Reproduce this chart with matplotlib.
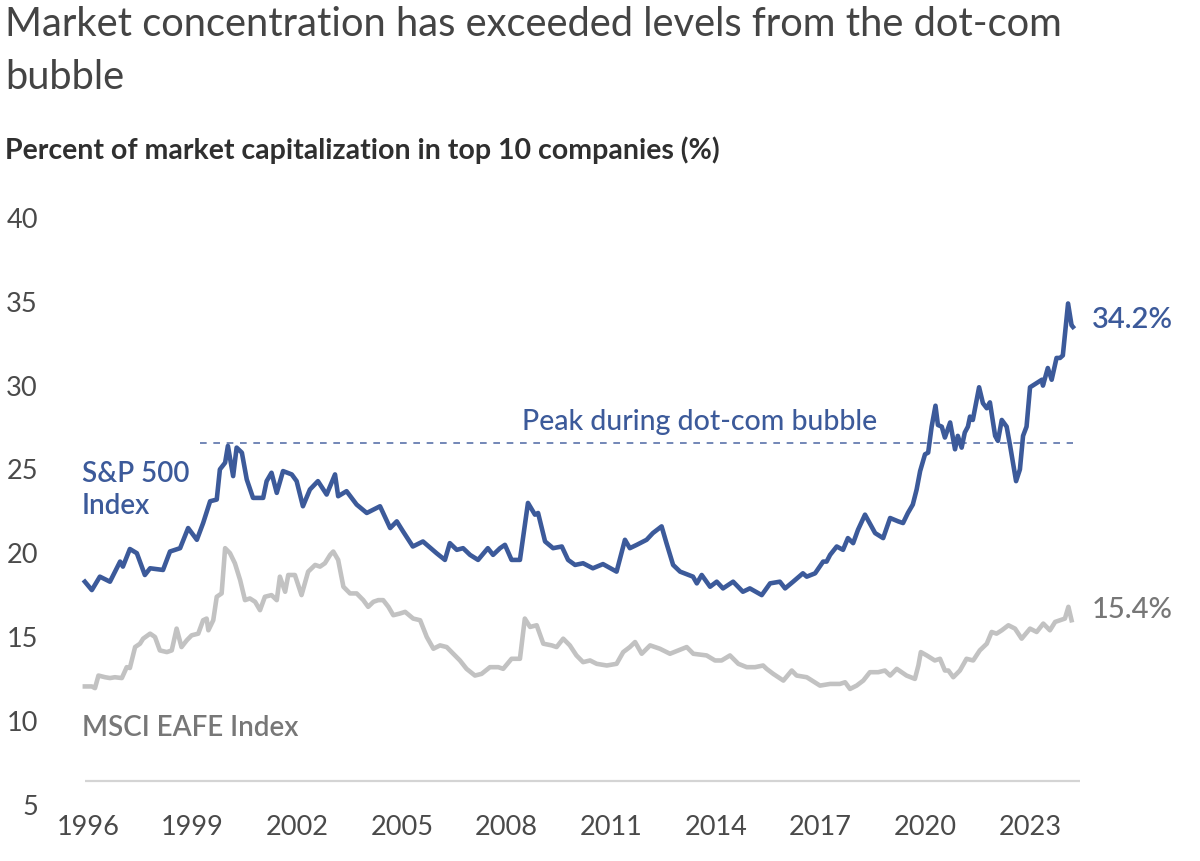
import matplotlib
matplotlib.use("Agg")
import matplotlib.pyplot as plt

# ---------------- data (decimal years, % of market cap in top 10) ----------------
sp500_years = [1995.91, 1996.11, 1996.34, 1996.63, 1996.92, 1997.00, 1997.20, 1997.40, 1997.63, 1997.78,
               1998.15, 1998.35, 1998.64, 1998.87, 1999.12, 1999.30, 1999.50, 1999.69, 1999.78, 1999.93,
               2000.01, 2000.16, 2000.26, 2000.41, 2000.55, 2000.73, 2000.79, 2001.02, 2001.12, 2001.26,
               2001.41, 2001.59, 2001.84, 2001.98, 2002.16, 2002.36, 2002.59, 2002.84, 2003.08, 2003.17,
               2003.41, 2003.70, 2003.99, 2004.37, 2004.66, 2004.85, 2005.03, 2005.31, 2005.60, 2005.99,
               2006.23, 2006.37, 2006.57, 2006.75, 2006.95, 2007.18, 2007.46, 2007.61, 2007.81, 2007.95,
               2008.14, 2008.38, 2008.61, 2008.81, 2008.90, 2009.10, 2009.33, 2009.58, 2009.76, 2009.96,
               2010.19, 2010.47, 2010.76, 2011.15, 2011.39, 2011.53, 2011.73, 2012.01, 2012.19, 2012.44,
               2012.58, 2012.77, 2012.97, 2013.34, 2013.45, 2013.59, 2013.83, 2014.02, 2014.20, 2014.49,
               2014.77, 2014.97, 2015.31, 2015.55, 2015.83, 2015.98, 2016.21, 2016.49, 2016.60, 2016.84,
               2017.07, 2017.17, 2017.27, 2017.46, 2017.64, 2017.78, 2017.93, 2018.07, 2018.27, 2018.56,
               2018.79, 2018.99, 2019.22, 2019.36, 2019.50, 2019.64, 2019.75, 2019.85, 2019.99, 2020.08,
               2020.18, 2020.29, 2020.36, 2020.47, 2020.56, 2020.71, 2020.85, 2020.93, 2021.04, 2021.13,
               2021.22, 2021.28, 2021.36, 2021.54, 2021.65, 2021.76, 2021.85, 2022.00, 2022.08, 2022.19,
               2022.33, 2022.43, 2022.60, 2022.71, 2022.80, 2022.90, 2023.00, 2023.19, 2023.34, 2023.37,
               2023.51, 2023.62, 2023.76, 2023.86, 2023.94, 2024.09, 2024.19, 2024.23]
sp500_values = [18.3, 17.8, 18.6, 18.3, 19.5, 19.2, 20.25, 20.0, 18.7, 19.1,
                19.0, 20.1, 20.3, 21.5, 20.8, 21.8, 23.1, 23.2, 25.0, 25.4,
                26.4, 24.6, 26.3, 26.0, 24.4, 23.3, 23.3, 23.3, 24.3, 24.8,
                23.6, 24.9, 24.7, 24.3, 22.8, 23.8, 24.3, 23.5, 24.7, 23.4,
                23.7, 22.9, 22.4, 22.8, 21.5, 21.9, 21.3, 20.4, 20.7, 20.0,
                19.6, 20.6, 20.2, 20.3, 19.9, 19.6, 20.3, 19.9, 20.3, 20.5,
                19.6, 19.6, 23.0, 22.3, 22.4, 20.7, 20.3, 20.4, 19.6, 19.3,
                19.4, 19.1, 19.35, 18.9, 20.8, 20.3, 20.5, 20.8, 21.2, 21.6,
                20.6, 19.3, 18.9, 18.6, 18.2, 18.7, 18.0, 18.3, 17.9, 18.3,
                17.7, 17.9, 17.5, 18.2, 18.3, 17.9, 18.3, 18.8, 18.6, 18.8,
                19.5, 19.5, 19.9, 20.4, 20.2, 20.9, 20.6, 21.4, 22.3, 21.2,
                20.9, 22.1, 21.9, 21.8, 22.4, 22.9, 23.8, 24.9, 25.9, 26.0,
                27.55, 28.8, 27.65, 27.55, 26.9, 27.8, 26.2, 27.0, 26.3, 27.2,
                27.55, 28.15, 27.95, 29.9, 28.95, 28.65, 29.0, 27.0, 26.7, 27.95,
                27.55, 26.4, 24.3, 25.0, 27.0, 27.55, 29.9, 30.15, 30.35, 30.0,
                31.05, 30.35, 31.65, 31.65, 31.8, 34.9, 33.6, 33.5]

eafe_years = [1995.91, 1996.11, 1996.20, 1996.30, 1996.49, 1996.63, 1996.77, 1996.97, 1997.11, 1997.20,
              1997.35, 1997.49, 1997.58, 1997.78, 1997.92, 1998.06, 1998.26, 1998.40, 1998.54, 1998.68,
              1998.83, 1998.97, 1999.16, 1999.30, 1999.40, 1999.45, 1999.59, 1999.69, 1999.83, 1999.93,
              2000.07, 2000.21, 2000.36, 2000.50, 2000.64, 2000.79, 2000.93, 2001.07, 2001.26, 2001.41,
              2001.50, 2001.65, 2001.74, 2001.93, 2002.12, 2002.31, 2002.51, 2002.65, 2002.79, 2002.94,
              2003.03, 2003.17, 2003.32, 2003.51, 2003.70, 2003.89, 2004.03, 2004.18, 2004.32, 2004.46,
              2004.61, 2004.75, 2004.94, 2005.09, 2005.32, 2005.52, 2005.71, 2005.90, 2006.09, 2006.28,
              2006.47, 2006.66, 2006.85, 2007.09, 2007.28, 2007.52, 2007.76, 2007.90, 2008.14, 2008.38,
              2008.52, 2008.67, 2008.86, 2009.05, 2009.29, 2009.43, 2009.62, 2009.81, 2010.00, 2010.19,
              2010.39, 2010.58, 2010.87, 2011.15, 2011.34, 2011.53, 2011.68, 2011.87, 2012.11, 2012.39,
              2012.68, 2012.92, 2013.16, 2013.35, 2013.73, 2013.97, 2014.16, 2014.40, 2014.64, 2014.88,
              2015.12, 2015.35, 2015.45, 2015.64, 2015.93, 2016.17, 2016.31, 2016.60, 2016.98, 2017.27,
              2017.55, 2017.70, 2017.84, 2018.03, 2018.22, 2018.41, 2018.65, 2018.84, 2018.99, 2019.18,
              2019.46, 2019.70, 2019.80, 2019.87, 2020.04, 2020.27, 2020.42, 2020.56, 2020.66, 2020.80,
              2020.99, 2021.18, 2021.37, 2021.56, 2021.76, 2021.90, 2022.04, 2022.19, 2022.38, 2022.57,
              2022.76, 2023.00, 2023.19, 2023.38, 2023.57, 2023.72, 2023.86, 2024.00, 2024.10, 2024.19]
eafe_values = [12.05, 12.05, 11.95, 12.7, 12.6, 12.55, 12.6, 12.55, 13.2, 13.15,
               14.4, 14.6, 14.9, 15.2, 15.0, 14.2, 14.1, 14.2, 15.5, 14.4,
               14.8, 15.1, 15.2, 16.0, 16.1, 15.4, 16.0, 17.4, 17.6, 20.3,
               20.0, 19.4, 18.4, 17.2, 17.3, 17.1, 16.6, 17.4, 17.5, 17.2,
               18.6, 17.7, 18.7, 18.7, 17.5, 18.9, 19.3, 19.2, 19.4, 19.9,
               20.1, 19.6, 18.0, 17.6, 17.6, 17.2, 16.8, 17.1, 17.2, 17.2,
               16.8, 16.3, 16.4, 16.5, 16.1, 16.0, 15.0, 14.3, 14.5, 14.4,
               14.0, 13.6, 13.1, 12.7, 12.8, 13.2, 13.2, 13.1, 13.7, 13.7,
               16.1, 15.6, 15.7, 14.6, 14.5, 14.4, 14.9, 14.5, 13.9, 13.5,
               13.6, 13.4, 13.3, 13.4, 14.1, 14.4, 14.7, 14.0, 14.5, 14.3,
               14.0, 14.2, 14.4, 14.0, 13.9, 13.6, 13.6, 13.9, 13.4, 13.2,
               13.2, 13.3, 13.1, 12.8, 12.4, 13.0, 12.7, 12.6, 12.1, 12.2,
               12.2, 12.3, 11.9, 12.1, 12.4, 12.9, 12.9, 13.0, 12.7, 13.1,
               12.7, 12.5, 13.3, 14.1, 13.9, 13.6, 13.7, 13.0, 13.0, 12.6,
               13.0, 13.7, 13.6, 14.2, 14.6, 15.3, 15.2, 15.4, 15.7, 15.5,
               14.9, 15.5, 15.3, 15.8, 15.4, 15.9, 16.0, 16.1, 16.8, 16.0]

dotcom_peak = 26.6
dotcom_span = (1999.2, 2024.23)
baseline_level = 6.4
yticks = [5, 10, 15, 20, 25, 30, 35, 40]
xticks = [1996, 1999, 2002, 2005, 2008, 2011, 2014, 2017, 2020, 2023]
sp500_last_label = "34.2%"
eafe_last_label = "15.4%"

title_lines = ["Market concentration has exceeded levels from the dot-com", "bubble"]
subtitle = "Percent of market capitalization in top 10 companies (%)"

# ---------------- style ----------------
BLUE = "#3c5a9a"
BLUE_DASH = "#5b73aa"
GRAY_LINE = "#c2c2c2"
GRAY_TEXT = "#777777"
TICK_COLOR = "#4a4a4a"
MAIN = "Lato"

W, H = 1200, 861
fig = plt.figure(figsize=(W / 100, H / 100), dpi=100)

ax_l, ax_r, ax_t, ax_b = 60, 1080, 210, 815
ax = fig.add_axes([ax_l / W, 1 - ax_b / H, (ax_r - ax_l) / W, (ax_b - ax_t) / H])

px_per_year = 34.89
x0 = 1996 + (ax_l - 88) / px_per_year
x1 = 1996 + (ax_r - 88) / px_per_year
px_per_unit = 16.76
y_top = 40 + (218 - ax_t) / px_per_unit
y_bot = 40 - (ax_b - 218) / px_per_unit
ax.set_xlim(x0, x1)
ax.set_ylim(y_bot, y_top)

ax.hlines(baseline_level, sp500_years[0], sp500_years[-1] + 0.2, colors="#d4d4d4", lw=1.6, zorder=1)
ax.plot(eafe_years, eafe_values, color=GRAY_LINE, lw=3.3, solid_joinstyle="round", zorder=2)
ax.plot(sp500_years, sp500_values, color=BLUE, lw=3.3, solid_joinstyle="round", zorder=3)
ax.hlines(dotcom_peak, dotcom_span[0], dotcom_span[1], colors=BLUE_DASH, lw=1.2,
          linestyles=(0, (4, 4)), zorder=1)

for s in ["top", "right", "left", "bottom"]:
    ax.spines[s].set_visible(False)

ax.set_yticks(yticks)
ax.set_yticklabels([str(v) for v in yticks], fontfamily=MAIN, fontsize=19.5, color=TICK_COLOR)
ax.tick_params(axis="y", length=0, pad=16)
ax.set_xticks(xticks)
ax.set_xticklabels([str(v) for v in xticks], fontfamily=MAIN, fontsize=19.5, color=TICK_COLOR)
ax.tick_params(axis="x", length=0, pad=0)

# annotations
ax.text(1995.83, 25.5, "S&P 500\nIndex", color=BLUE, fontsize=20, fontfamily=MAIN,
        fontweight="semibold", va="top", ha="left", linespacing=1.3)
ax.text(1995.83, 9.55, "MSCI EAFE Index", color=GRAY_TEXT, fontsize=20, fontfamily=MAIN,
        fontweight="semibold", va="center", ha="left")
ax.text(2008.45, 27.85, "Peak during dot-com bubble", color=BLUE, fontsize=20.5, fontfamily=MAIN,
        fontweight="medium", va="center", ha="left")
fig.text(1092 / W, 1 - 320 / H, sp500_last_label, color=BLUE, fontsize=21, fontfamily=MAIN,
         fontweight="semibold", va="center", ha="left")
fig.text(1092 / W, 1 - 610 / H, eafe_last_label, color=GRAY_TEXT, fontsize=21, fontfamily=MAIN,
         fontweight="medium", va="center", ha="left")

fig.text(5 / W, 1 - 36 / H, title_lines[0], fontsize=28.7, fontfamily=MAIN, color="#444444",
         va="baseline", ha="left")
fig.text(5 / W, 1 - 89 / H, title_lines[1], fontsize=28.7, fontfamily=MAIN, color="#444444",
         va="baseline", ha="left")
fig.text(5 / W, 1 - 159 / H, subtitle, fontsize=20.5, fontfamily=MAIN, fontweight="bold",
         color="#2f2f2f", va="baseline", ha="left")

fig.savefig("out.png", dpi=100, facecolor="white")
